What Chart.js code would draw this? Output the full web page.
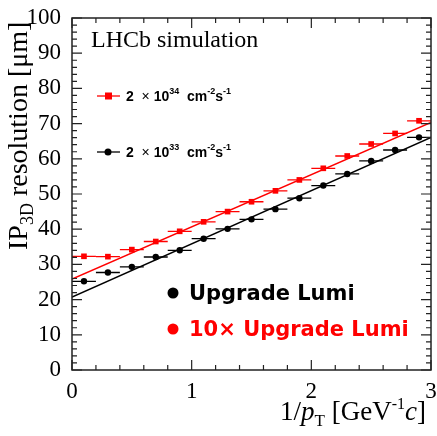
<!DOCTYPE html>
<html>
<head>
<meta charset="utf-8">
<script src="https://cdn.jsdelivr.net/npm/chart.js"></script>
<style>
  html, body { margin: 0; padding: 0; background: #fff; }
  canvas { display: block; }
</style>
</head>
<body>
<canvas id="ipChart" width="437" height="436"></canvas>
<script>
// bin centres in 1/pT and measured resolutions (um)
const binCentres = [0.1, 0.3, 0.5, 0.7, 0.9, 1.1, 1.3, 1.5, 1.7, 1.9, 2.1, 2.3, 2.5, 2.7, 2.9];
const binHalfWidth = 0.1;
const lumiHigh = [32.3, 32.2, 34.2, 36.5, 39.4, 42.1, 45.0, 47.8, 50.9, 54.0, 57.3, 60.8, 64.2, 67.2, 70.8];
const lumiLow = [25.2, 27.7, 29.3, 32.1, 34.0, 37.3, 40.1, 42.8, 45.7, 48.8, 52.4, 55.7, 59.4, 62.5, 66.1];
const yErr = 0.5;

// straight-line fits, evaluated at the ends of the x range
const fitX = [0, 3];
const fitHigh = [25.8, 70.3];
const fitLow = [20.7, 66.1];

const xTickLabels = ["0", "1", "2", "3"];
const yTickLabels = ["0", "10", "20", "30", "40", "50", "60", "70", "80", "90", "100"];
const xMinorStep = 0.2, xMajorStep = 1;
const yMinorStep = 2, yMajorStep = 10;

const RED = "#ff0000";
const BLACK = "#000000";
const SERIF = "'Liberation Serif', 'DejaVu Serif', serif";

const toPoints = (xs, ys) => xs.map((x, i) => ({ x: x, y: ys[i] }));

// draw runs of text with different fonts / vertical offsets
function richText(ctx, parts, x, y, align) {
  let total = 0;
  parts.forEach(p => { ctx.font = p.font; total += ctx.measureText(p.text).width; });
  let cx = align === "right" ? x - total : x;
  ctx.textAlign = "left";
  ctx.textBaseline = "alphabetic";
  parts.forEach(p => {
    ctx.font = p.font;
    ctx.fillStyle = p.color || BLACK;
    ctx.fillText(p.text, cx, y + (p.dy || 0));
    cx += ctx.measureText(p.text).width;
  });
}

const errorBars = {
  id: "errorBars",
  afterDatasetsDraw(chart) {
    const ctx = chart.ctx;
    const xs = chart.scales.x, ys = chart.scales.y;
    chart.data.datasets.forEach((ds, i) => {
      if (!ds.errorBars || !chart.isDatasetVisible(i)) return;
      ctx.save();
      ctx.strokeStyle = ds.borderColor;
      ctx.lineWidth = 1.3;
      ds.data.forEach(p => {
        const px = xs.getPixelForValue(p.x), py = ys.getPixelForValue(p.y);
        ctx.beginPath();
        ctx.moveTo(xs.getPixelForValue(p.x - binHalfWidth), py);
        ctx.lineTo(xs.getPixelForValue(p.x + binHalfWidth), py);
        ctx.moveTo(px, ys.getPixelForValue(p.y - yErr));
        ctx.lineTo(px, ys.getPixelForValue(p.y + yErr));
        ctx.stroke();
      });
      ctx.restore();
    });
  }
};

const rootFrame = {
  id: "rootFrame",
  afterDraw(chart) {
    const ctx = chart.ctx;
    const a = chart.chartArea;
    const xs = chart.scales.x, ys = chart.scales.y;
    ctx.save();
    ctx.strokeStyle = "#222";
    ctx.lineWidth = 1.5;
    ctx.strokeRect(a.left, a.top, a.right - a.left, a.bottom - a.top);

    // inward ROOT-style ticks on all four sides
    ctx.lineWidth = 1.2;
    ctx.beginPath();
    const nx = Math.round((xs.max - xs.min) / xMinorStep);
    for (let i = 0; i <= nx; i++) {
      const v = xs.min + i * xMinorStep;
      const px = xs.getPixelForValue(v);
      const len = i % Math.round(xMajorStep / xMinorStep) === 0 ? 10 : 5;
      ctx.moveTo(px, a.bottom); ctx.lineTo(px, a.bottom - len);
      ctx.moveTo(px, a.top); ctx.lineTo(px, a.top + len);
    }
    const ny = Math.round((ys.max - ys.min) / yMinorStep);
    for (let i = 0; i <= ny; i++) {
      const v = ys.min + i * yMinorStep;
      const py = ys.getPixelForValue(v);
      const len = i % Math.round(yMajorStep / yMinorStep) === 0 ? 10 : 5;
      ctx.moveTo(a.left, py); ctx.lineTo(a.left + len, py);
      ctx.moveTo(a.right, py); ctx.lineTo(a.right - len, py);
    }
    ctx.stroke();

    // axis titles
    richText(ctx, [
      { text: "1/", font: "27px " + SERIF },
      { text: "p", font: "italic 27px " + SERIF },
      { text: "T", font: "17px " + SERIF, dy: 6 },
      { text: " [GeV", font: "27px " + SERIF },
      { text: "-1", font: "16px " + SERIF, dy: -11 },
      { text: "c", font: "italic 27px " + SERIF },
      { text: "]", font: "27px " + SERIF }
    ], 426, 420, "right");

    ctx.save();
    ctx.translate(27, 250);
    ctx.rotate(-Math.PI / 2);
    richText(ctx, [
      { text: "IP", font: "28px " + SERIF },
      { text: "3D", font: "18px " + SERIF, dy: 6 },
      { text: " resolution [\u03bcm]", font: "28px " + SERIF }
    ], 0, 0, "left");
    ctx.restore();

    // labels inside the frame
    ctx.fillStyle = BLACK;
    ctx.font = "24px " + SERIF;
    ctx.textAlign = "left";
    ctx.textBaseline = "alphabetic";
    ctx.fillText("LHCb simulation", 91, 47);

    const legendRows = [
      { color: RED, marker: "rect", y: 96, exp: "34" },
      { color: BLACK, marker: "circle", y: 152, exp: "33" }
    ];
    const LF = "'Liberation Sans', Arial, sans-serif";
    legendRows.forEach(r => {
      ctx.strokeStyle = r.color;
      ctx.fillStyle = r.color;
      ctx.lineWidth = 1.3;
      ctx.beginPath();
      ctx.moveTo(97, r.y); ctx.lineTo(120, r.y);
      ctx.stroke();
      if (r.marker === "rect") ctx.fillRect(105, r.y - 3.5, 7, 7);
      else { ctx.beginPath(); ctx.arc(108, r.y, 3.5, 0, Math.PI * 2); ctx.fill(); }
      richText(ctx, [
        { text: "2  ", font: "bold 14px " + LF },
        { text: "\u00d7", font: "14px " + LF },
        { text: " 10", font: "bold 14px " + LF },
        { text: r.exp, font: "bold 9px " + LF, dy: -7 },
        { text: "  cm", font: "bold 14px " + LF },
        { text: "-2", font: "bold 9px " + LF, dy: -7 },
        { text: "s", font: "bold 14px " + LF },
        { text: "-1", font: "bold 9px " + LF, dy: -7 }
      ], 126, r.y + 5, "left");
    });

    const BF = "bold 21px 'DejaVu Sans', sans-serif";
    [[BLACK, "Upgrade Lumi", 293], [RED, "10\u00d7 Upgrade Lumi", 329]].forEach(([c, t, y]) => {
      ctx.fillStyle = c;
      ctx.beginPath(); ctx.arc(173, y, 5.5, 0, Math.PI * 2); ctx.fill();
      ctx.font = BF;
      ctx.fillText(t, 189, y + 7);
    });
    ctx.restore();
  }
};

new Chart(document.getElementById("ipChart"), {
  type: "scatter",
  data: {
    datasets: [
      {
        type: "line", data: toPoints(fitX, fitHigh), borderColor: RED,
        borderWidth: 1.5, pointRadius: 0, fill: false
      },
      {
        type: "line", data: toPoints(fitX, fitLow), borderColor: BLACK,
        borderWidth: 1.5, pointRadius: 0, fill: false
      },
      {
        data: toPoints(binCentres, lumiHigh), borderColor: RED, backgroundColor: RED,
        pointStyle: "rect", pointRadius: 4, borderWidth: 0, errorBars: true
      },
      {
        data: toPoints(binCentres, lumiLow), borderColor: BLACK, backgroundColor: BLACK,
        pointStyle: "circle", pointRadius: 3.2, borderWidth: 0, errorBars: true
      }
    ]
  },
  options: {
    responsive: false,
    animation: false,
    layout: { padding: { top: 18, right: 6, left: 0, bottom: 0 } },
    plugins: { legend: { display: false }, tooltip: { enabled: false } },
    scales: {
      x: {
        type: "linear", min: 0, max: 3,
        afterFit: s => { s.height = 66; s.paddingLeft = 0; s.paddingRight = 0; },
        grid: { display: false },
        border: { display: false },
        ticks: {
          stepSize: 0.2, autoSkip: false, maxRotation: 0, padding: 0,
          color: BLACK, font: { family: SERIF, size: 23 },
          callback: v => {
            const r = Math.round(v);
            return Math.abs(v - r) < 1e-6 ? xTickLabels[r] : "";
          }
        }
      },
      y: {
        min: 0, max: 100,
        afterFit: s => { s.width = 72; s.paddingTop = 0; s.paddingBottom = 0; },
        grid: { display: false },
        border: { display: false },
        ticks: {
          stepSize: 2, autoSkip: false, padding: 3,
          color: BLACK, font: { family: SERIF, size: 23 },
          callback: v => {
            const r = Math.round(v);
            return r % 10 === 0 ? yTickLabels[r / 10] : "";
          }
        }
      }
    }
  },
  plugins: [errorBars, rootFrame]
});
</script>
</body>
</html>
